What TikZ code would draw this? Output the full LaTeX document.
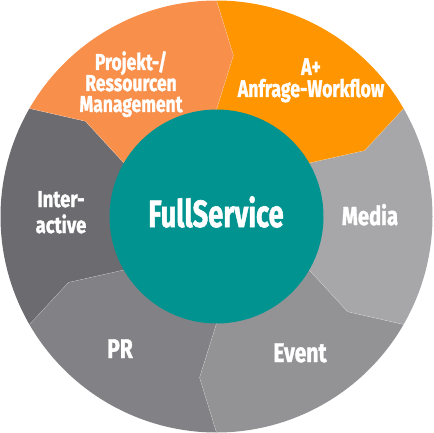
\documentclass[tikz,border=0pt]{standalone}
\usepackage{fontspec}
\setmainfont{Fira Sans}[BoldFeatures={FakeBold=1.5}]
\definecolor{cProj}{RGB}{248,144,76}
\definecolor{cAplus}{RGB}{255,149,0}
\definecolor{cMedia}{RGB}{167,167,170}
\definecolor{cEvent}{RGB}{147,147,150}
\definecolor{cPR}{RGB}{130,130,134}
\definecolor{cInter}{RGB}{107,107,112}
\definecolor{cTeal}{RGB}{0,147,143}
\newcommand{\seg}[3]{%
  \fill[#3] (0,0) -- (#1:107) -- ({#1+6}:162) -- (#1:216)
    arc[start angle=#1, end angle=#2, radius=216]
    -- ({#2+6}:162) -- (#2:107) -- cycle;}
\tikzset{
  labeltext/.style={text=white, inner sep=0pt, anchor=base},
}
\newcommand{\mlabel}[4]{\scalebox{#1}[1]{\parbox[t]{8cm}{\centering\fontsize{#2}{#3}\selectfont\bfseries\lineskiplimit=-20pt\relax #4}}}
\begin{document}
\begin{tikzpicture}[x=1pt,y=-1pt]
\useasboundingbox (0,0) rectangle (433,433);
\begin{scope}[shift={(216.5,216.5)}]
  \seg{150}{210}{cInter}
  \seg{90}{150}{cPR}
  \seg{30}{90}{cEvent}
  \seg{-30}{30}{cMedia}
  \seg{-90}{-30}{cAplus}
  \seg{210}{270}{cProj}
  \foreach \a in {-90,-30,30,90,150,210}
    \draw[white, opacity=0.35, line width=0.4pt] (\a:107) -- ({\a+6}:162) -- (\a:216);
  \fill[cTeal] (0,0) circle[radius=107];
\end{scope}
\node[labeltext] (full) at (216,227) {\mlabel{0.72}{38}{40}{FullService}};
\node[labeltext] (proj) at (131,70) {\mlabel{0.76}{23}{21}{Projekt-/\\Ressourcen\\Management}};
\node[labeltext] (aplus) at (311,75) {\mlabel{0.74}{24}{22}{A+\\Anfrage-Workflow}};
\node[labeltext] (media) at (370,225) {\mlabel{0.78}{26}{26}{Media}};
\node[labeltext] (event) at (300,362) {\mlabel{0.78}{27}{27}{Event}};
\node[labeltext] (pr) at (120,358) {\mlabel{0.78}{27}{27}{PR}};
\node[labeltext] (inter) at (61,207) {\mlabel{0.8}{23}{26}{Inter-\\active}};
\end{tikzpicture}
\end{document}
